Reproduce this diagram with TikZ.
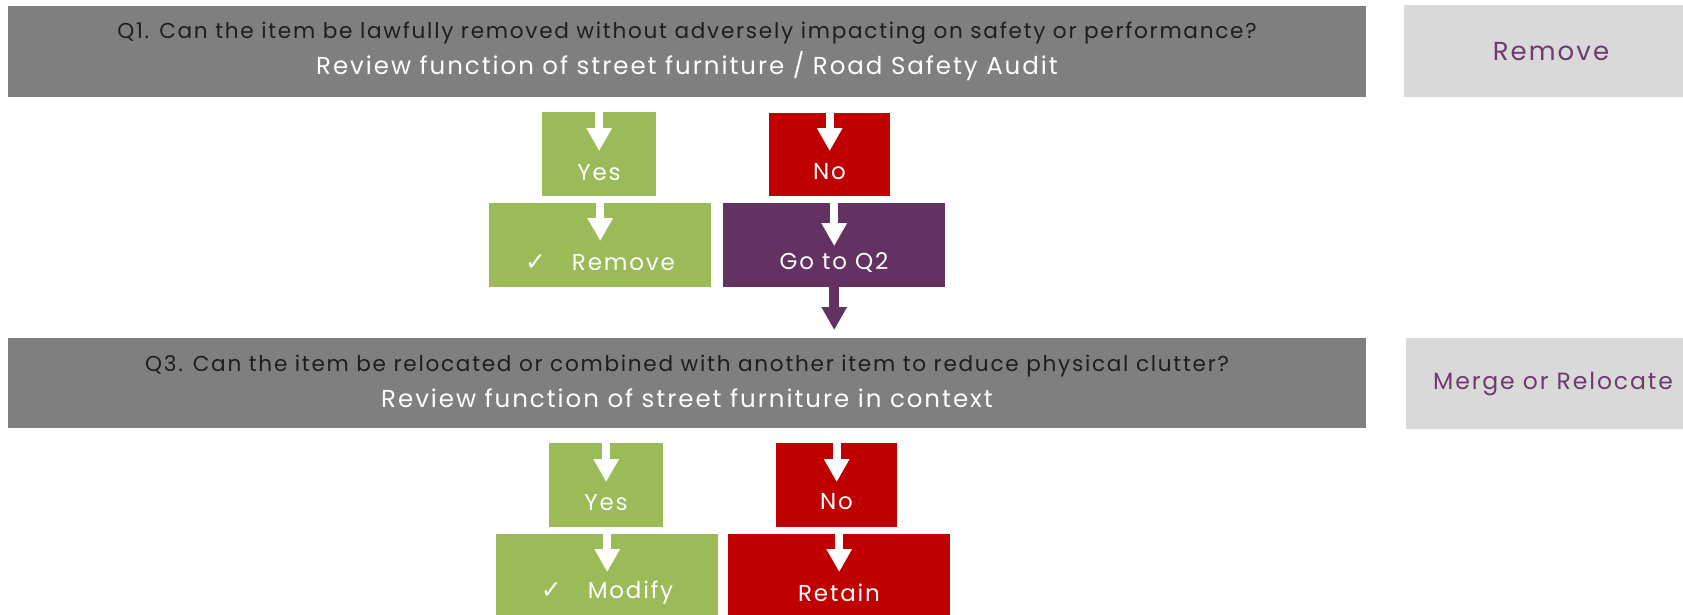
\documentclass[tikz,border=0pt]{standalone}
\usepackage{fontspec}
\setmainfont{Poppins}[LetterSpace=8]
\newfontfamily\symfont{DejaVu Sans}
\usetikzlibrary{arrows.meta}
\definecolor{qgrey}{RGB}{127,127,127}
\definecolor{qdark}{RGB}{30,30,30}
\definecolor{lgrey}{RGB}{217,217,217}
\definecolor{ygreen}{RGB}{155,187,89}
\definecolor{nred}{RGB}{192,0,0}
\definecolor{purp}{RGB}{99,50,99}
\definecolor{ptext}{RGB}{112,58,112}
\newcommand{\chk}{{\symfont\fontsize{25}{26}\selectfont ✓}}
\newcommand{\qlineA}{\color{qdark}\fontsize{21.6}{34.5}\selectfont}
\newcommand{\qlineB}{\color{white}\fontsize{24.5}{34.5}\selectfont}
\tikzset{
  box/.style={rectangle, inner sep=0pt, anchor=north west, draw=none},
  qbox/.style={box, fill=qgrey, minimum width=1358.5pt, minimum height=91pt},
  qtext/.style={inner sep=0pt, align=center},
  sidebox/.style={box, fill=lgrey},
  sidetext/.style={text=ptext, inner sep=0pt},
  smallbox/.style={box, minimum width=114pt, minimum height=84pt},
  bigbox/.style={box, minimum width=222pt, minimum height=84pt},
  lbl/.style={text=white, font=\fontsize{23}{28}\selectfont, inner sep=0pt},
  warrow/.style={draw=white, line width=8pt, -{Triangle[width=24pt,length=23pt]}},
  parrow/.style={draw=purp, line width=10pt, -{Triangle[width=24pt,length=23pt]}}
}
\begin{document}
\begin{tikzpicture}[x=1pt,y=-1pt]
\useasboundingbox (0,0) rectangle (1683,614);
% Q1
\node[qbox] (q1) at (7.5,5.5) {};
\node[qtext, font=\qlineA] (q1a) at (687,33.5) {Q1. Can the item be lawfully removed without adversely impacting on safety or performance?};
\node[qtext, font=\qlineB] (q1b) at (687,66.5) {Review function of street furniture / Road Safety Audit};
\node[sidebox, minimum width=279pt, minimum height=92pt] (side1) at (1404,5) {};
\node[sidetext, font=\fontsize{26}{30}\selectfont] (side1t) at (1551,52) {Remove};
% top answers
\node[smallbox, fill=ygreen] (yes1) at (542,112) {};
\node[smallbox, fill=nred, minimum width=121pt, minimum height=83pt] (no1) at (769,113) {};
\node[bigbox, fill=ygreen] (rem) at (489,203) {};
\node[bigbox, fill=purp] (goq) at (723,203) {};
\node[lbl] (yes1t) at (599,173) {Yes};
\node[lbl] (no1t) at (829.5,172) {No};
\node[lbl] (remt) at (600,263) {\chk\hspace{26pt}Remove};
\node[lbl] (goqt) at (834,263) {Go to Q2};
\draw[warrow] (yes1.north) -- ++(0,39);
\draw[warrow] (no1.north) -- ++(0,38);
\draw[warrow] (rem.north) -- ++(0,38);
\draw[warrow] (goq.north) -- ++(0,43);
% Q3
\node[qbox, minimum height=90pt] (q3) at (7.5,338) {};
\node[qtext, font=\qlineA] (q3a) at (687,366.5) {Q3. Can the item be relocated or combined with another item to reduce physical clutter?};
\node[qtext, font=\qlineB] (q3b) at (687,398.5) {Review function of street furniture in context};
\node[sidebox, minimum width=277pt, minimum height=91pt] (side2) at (1406,338) {};
\node[sidetext, font=\fontsize{23.5}{28}\selectfont] (side2t) at (1553,384) {Merge or Relocate};
\draw[parrow, shorten >=8pt] (goq.south) -- (goq.south |- q3.north);
% bottom answers
\node[smallbox, fill=ygreen] (yes2) at (549,443) {};
\node[smallbox, fill=nred, minimum width=121pt] (no2) at (776,443) {};
\node[bigbox, fill=ygreen, minimum height=82pt] (mod) at (496,534) {};
\node[bigbox, fill=nred, minimum height=82pt] (ret) at (728,534) {};
\node[lbl] (yes2t) at (606,503) {Yes};
\node[lbl] (no2t) at (836.5,502) {No};
\node[lbl] (modt) at (607,593) {\chk\hspace{26pt}Modify};
\node[lbl] (rett) at (839,593) {Retain};
\draw[warrow] (yes2.north) -- ++(0,39);
\draw[warrow] (no2.north) -- ++(0,39);
\draw[warrow] (mod.north) -- ++(0,38);
\draw[warrow] (ret.north) -- ++(0,38);
\end{tikzpicture}
\end{document}
